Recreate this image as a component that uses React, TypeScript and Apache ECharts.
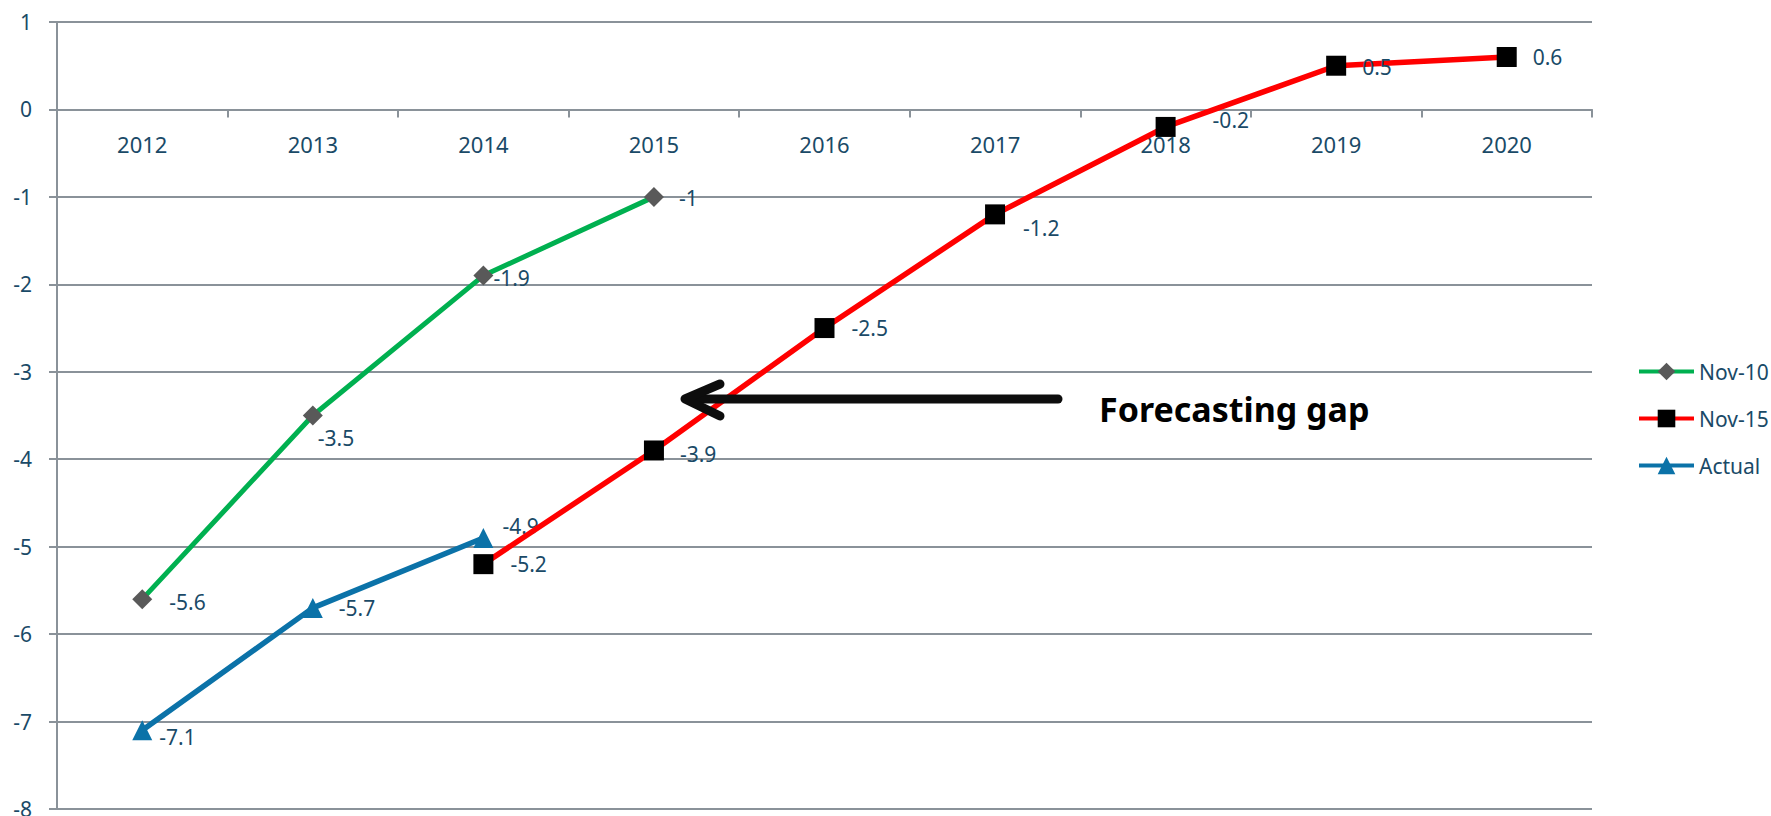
import React, { useEffect, useRef } from "react";
import * as echarts from "echarts";

const categories = ["2012", "2013", "2014", "2015", "2016", "2017", "2018", "2019", "2020"];
const nov10 = [-5.6, -3.5, -1.9, -1, "-", "-", "-", "-", "-"];
const nov15 = ["-", "-", -5.2, -3.9, -2.5, -1.2, -0.2, 0.5, 0.6];
const actual = [-7.1, -5.7, -4.9, "-", "-", "-", "-", "-", "-"];
const yMin = -8;
const yMax = 1;

// label offsets (style only)
const nov10Off = [[17, 3], [-5, 22], [0, 2], [15, 1], [0, 0], [0, 0], [0, 0], [0, 0], [0, 0]];
const nov15Off = [[0, 0], [0, 0], [17, 0], [16, 4], [17, 0], [18, 14], [37, -7], [16, 1], [16, 0]];
const actualOff = [[7, 7], [16, 0], [9, -12], [0, 0], [0, 0], [0, 0], [0, 0], [0, 0], [0, 0]];

const TXT = "#1A4A67";
const AXIS = "#8A9299";
const FONT = "Noto Sans";
const GRID_TOP = 22;
const GRID_BOTTOM = 7;
const H = 816;

function withOffsets(vals: any[], offs: number[][]) {
  return vals.map((v, i) =>
    v === "-" ? "-" : { value: v, label: { offset: offs[i] } }
  );
}

export default function App() {
  const ref = useRef<HTMLDivElement>(null);
  useEffect(() => {
    const chart = echarts.init(ref.current!, null, { renderer: "svg" });
    const plotH = H - GRID_TOP - GRID_BOTTOM;
    const zeroFromBottom = (plotH * (0 - yMin)) / (yMax - yMin);
    const labelBase = {
      show: true,
      position: "right",
      distance: 0,
      color: TXT,
      fontSize: 21,
      fontFamily: FONT,
    };
    chart.setOption({
      animation: false,
      textStyle: { fontFamily: FONT },
      grid: { left: 57, top: GRID_TOP, right: 179, bottom: GRID_BOTTOM, outerBoundsMode: "none", containLabel: false },
      legend: {
        orient: "vertical",
        left: 1632,
        top: 356,
        itemWidth: 55,
        itemHeight: 22,
        itemGap: 26,
        lineStyle: { width: 4 },
        textStyle: { color: TXT, fontSize: 21, fontFamily: FONT },
        data: ["Nov-10", "Nov-15", "Actual"],
      },
      xAxis: {
        type: "category",
        data: categories,
        boundaryGap: true,
        position: "bottom",
        offset: -zeroFromBottom,
        axisLine: { onZero: false, lineStyle: { color: AXIS, width: 2 } },
        axisTick: { show: true, length: 8, lineStyle: { color: AXIS, width: 2 } },
        axisLabel: { color: TXT, fontSize: 22, fontFamily: FONT, margin: 24 },
        splitLine: { show: false },
      },
      yAxis: {
        type: "value",
        min: yMin,
        max: yMax,
        interval: 1,
        axisLine: { show: true, lineStyle: { color: AXIS, width: 2 } },
        axisTick: { show: true, length: 8, lineStyle: { color: AXIS, width: 2 } },
        axisLabel: { color: TXT, fontSize: 21, fontFamily: FONT, margin: 25 },
        splitLine: { show: true, lineStyle: { color: AXIS, width: 2 } },
      },
      series: [
        {
          name: "Nov-10",
          type: "line",
          data: withOffsets(nov10, nov10Off),
          symbol: "diamond",
          symbolSize: 20,
          z: 3,
          lineStyle: { color: "#00B050", width: 5 },
          itemStyle: { color: "#595959" },
          label: labelBase,
        },
        {
          name: "Nov-15",
          type: "line",
          data: withOffsets(nov15, nov15Off),
          symbol: "rect",
          symbolSize: 20,
          z: 4,
          lineStyle: { color: "#FF0000", width: 5.5 },
          itemStyle: { color: "#000000" },
          label: labelBase,
        },
        {
          name: "Actual",
          type: "line",
          data: withOffsets(actual, actualOff),
          symbol: "triangle",
          symbolSize: 20,
          z: 2,
          lineStyle: { color: "#0B72A8", width: 5.5 },
          itemStyle: { color: "#0B72A8" },
          label: labelBase,
        },
      ],
      graphic: [
        {
          type: "line",
          shape: { x1: 1058, y1: 399, x2: 688, y2: 399 },
          style: { stroke: "#0D0D0D", lineWidth: 9, lineCap: "round" },
          z: 100,
        },
        {
          type: "polyline",
          shape: { points: [[720, 384], [685, 399], [720, 416]] },
          style: { stroke: "#0D0D0D", fill: null, lineWidth: 9, lineCap: "round", lineJoin: "round" },
          z: 100,
        },
        {
          type: "text",
          left: 1099,
          top: 392,
          style: {
            text: "Forecasting gap",
            fontFamily: FONT,
            fontWeight: "bold",
            fontSize: 34,
            fill: "#000000",
          },
          z: 100,
        },
      ],
    });
    return () => chart.dispose();
  }, []);
  return (
    <div
      ref={ref}
      style={{ position: "fixed", left: 0, top: 0, width: 1771, height: 816, background: "#fff" }}
    />
  );
}
